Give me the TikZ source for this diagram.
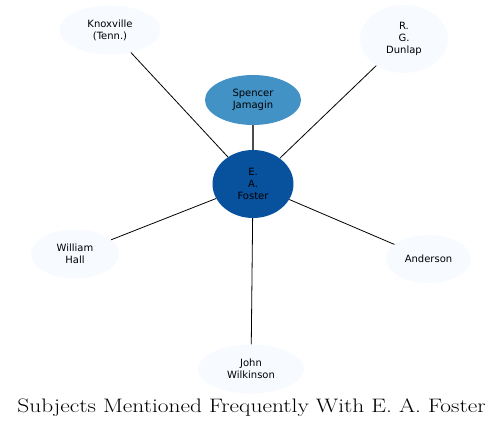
\documentclass[tikz,border=0pt]{standalone}
\usepackage{fontspec}
\newfontfamily\nodefont{DejaVu Sans}
\usetikzlibrary{shapes, arrows, positioning}

\definecolor{darkblue}{HTML}{08519C}
\definecolor{midblue}{HTML}{4292C6}
\definecolor{paleblue}{HTML}{F7FBFF}

\tikzset{
	subject/.style = {ellipse, fill = paleblue, draw = none, align = center, inner sep = 0pt, font = \nodefont\fontsize{10}{12}\selectfont},
	center/.style = {subject, fill = darkblue},
	near/.style = {subject, fill = midblue},
	line/.style = {draw, black, line width = 0.8pt},
	heavy/.style = {draw, black!70, line width = 1.3pt}
}

\begin{document}
\begin{tikzpicture}[x = 1pt, y = 1pt]
			\useasboundingbox (0,0) rectangle (503,429);
			\node [center, minimum width = 81pt, minimum height = 68pt] (foster) at (253,245) {E.\\A.\\Foster};
			\node [near, minimum width = 96pt, minimum height = 50pt] (jamagin) at (253,329) {Spencer\\Jamagin};
			\node [subject, minimum width = 101pt, minimum height = 49pt] (knoxville) at (110,399) {Knoxville\\(Tenn.)};
			\node [subject, minimum width = 88pt, minimum height = 68pt] (dunlap) at (404,390) {R.\\G.\\Dunlap};
			\node [subject, minimum width = 88pt, minimum height = 49pt] (hall) at (75,175) {William\\Hall};
			\node [subject, minimum width = 85pt, minimum height = 48pt] (anderson) at (428.5,170) {Anderson};
			\node [subject, minimum width = 106pt, minimum height = 49pt] (wilkinson) at (251,60) {John\\Wilkinson};
			\node [anchor = base, font = \fontsize{19.5}{22}\selectfont] (title) at (251.5,17) {\scalebox{1.2}[1]{Subjects Mentioned Frequently With E. A. Foster}};
			\path [line] (knoxville) -- (foster);
			\path [line] (dunlap) -- (foster);
			\path [heavy] (jamagin) -- (foster);
			\path [line] (hall) -- (foster);
			\path [line] (anderson) -- (foster);
			\path [line] (wilkinson) -- (foster);
		\end{tikzpicture}
\end{document}
